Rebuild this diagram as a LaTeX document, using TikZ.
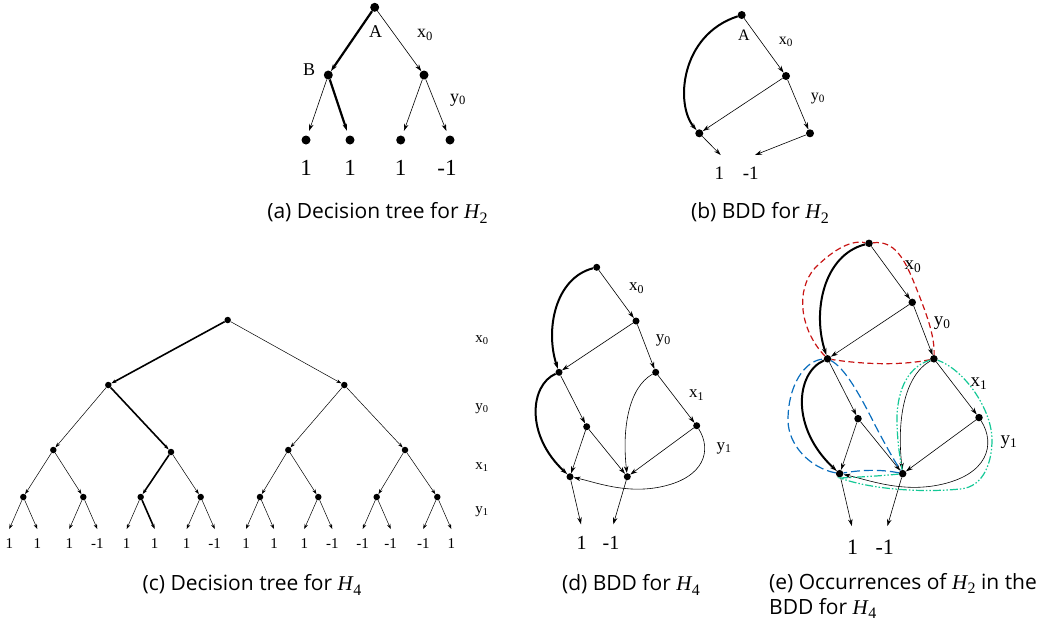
\documentclass[tikz,border=0pt]{standalone}
\usepackage{fontspec}
\setmainfont{Liberation Serif}
\newfontfamily\capfont{Open Sans}
\usetikzlibrary{arrows.meta}
\newcommand\fsz[1]{\fontsize{#1}{#1}\selectfont}
\newcommand\HH[1]{{\rmfamily\itshape H}\kern0.5pt\raisebox{-0.22em}{\rmfamily\fontsize{16}{16}\selectfont #1}}
\definecolor{occred}{RGB}{200,20,20}
\definecolor{occblue}{RGB}{10,110,190}
\definecolor{occgreen}{RGB}{20,200,150}
\newcommand\bddgraph[4]{%
  \node[dotsty=#4] (#1R) at (596.7,267.3) {};
  \node[dotsty=#4] (#1N1) at (636,321) {};
  \node[dotsty=#4] (#1L) at (559,372.3) {};
  \node[dotsty=#4] (#1N2) at (655.7,372.3) {};
  \node[dotsty=#4] (#1M) at (586.7,426.7) {};
  \node[dotsty=#4] (#1N3) at (696.7,425.7) {};
  \node[dotsty=#4] (#1P) at (570,476.7) {};
  \node[dotsty=#4] (#1Q) at (627.3,476.7) {};
  \coordinate (#1E1) at (581,524.3);
  \coordinate (#1E2) at (613.3,524.3);
  \draw[arr,thk] (#1R) .. controls (555,278) and (545,330) .. (#1L);
  \draw[arr] (#1R) -- (#1N1);
  \draw[arr] (#1N1) -- (#1L);
  \draw[arr] (#1N1) -- (#1N2);
  \draw[arr] (#1L) -- (#1M);
  \draw[arr,thk] (#1L) .. controls (530,385) and (525,435) .. (#1P);
  \draw[arr] (#1M) -- (#1P);
  \draw[arr] (#1M) -- (#1Q);
  \draw[arr] (#1N2) .. controls (628,388) and (622,430) .. (#1Q);
  \draw[arr] (#1N2) -- (#1N3);
  \draw[arr] (#1N3) -- (#1Q);
  \draw[arr] (#1N3) .. controls (712,450) and (705,478) .. (660,487) .. controls (625,494) and (595,482) .. (#1P);
  \draw[arr] (#1P) -- (#1E1);
  \draw[arr] (#1Q) -- (#1E2);
  \node[lab,font=\fsz{#3}] (#1one) at (581.7,543.3) {1};
  \node[lab,font=\fsz{#3}] (#1mone) at (611,543.3) {-1};
  \node[lab,font=\fsz{#2}] (#1x0) at (636.7,288.3) {x\textsubscript{0}};
  \node[lab,font=\fsz{#2}] (#1y0) at (663.3,340) {y\textsubscript{0}};
  \node[lab,font=\fsz{#2}] (#1x1) at (696.7,395) {x\textsubscript{1}};
  \node[lab,font=\fsz{#2}] (#1y1) at (724,448.3) {y\textsubscript{1}};
}
\begin{document}
\begin{tikzpicture}[x=1pt,y=-1pt,
  dotsty/.style={circle,fill=black,inner sep=0pt,minimum size=#1},
  dotsty/.default=8pt,
  arr/.style={-{Stealth[length=7pt,width=4.5pt]},line width=0.6pt},
  arrc/.style={-{Stealth[length=5pt,width=3.5pt]},line width=0.5pt},
  thk/.style={line width=2pt},
  lab/.style={inner sep=0pt},
  capsty/.style={inner sep=0pt,font=\capfont\fontsize{21}{25}\selectfont}]
\useasboundingbox (0,0) rectangle (1047,633);
% ---------- (a) ----------
\node[dotsty=9pt] (aR) at (374.7,7.3) {};
\node[dotsty=9pt] (aB) at (328.3,75) {};
\node[dotsty=9pt] (aC) at (424,75) {};
\node[dotsty=9pt] (aL1) at (306,140) {};
\node[dotsty=9pt] (aL2) at (350,140) {};
\node[dotsty=9pt] (aL3) at (400.7,140) {};
\node[dotsty=9pt] (aL4) at (450,140) {};
\draw[arr,line width=2.2pt] (aR) -- (aB);
\draw[arr] (aR) -- (aC);
\draw[arr,shorten >=5pt] (aB) -- (aL1);
\draw[arr,line width=2.2pt,shorten >=5pt] (aB) -- (aL2);
\draw[arr,shorten >=5pt] (aC) -- (aL3);
\draw[arr,shorten >=5pt] (aC) -- (aL4);
\node[lab,font=\fsz{18}] (aA) at (375.7,31.7) {A};
\node[lab,font=\fsz{18}] (aBl) at (309,70) {B};
\node[lab,font=\fsz{18}] (ax0) at (425,35) {x\textsubscript{0}};
\node[lab,font=\fsz{18}] (ay0) at (458,100) {y\textsubscript{0}};
\node[lab,font=\fsz{23}] (an1) at (306,168) {1};
\node[lab,font=\fsz{23}] (an2) at (350,168) {1};
\node[lab,font=\fsz{23}] (an3) at (400.7,168) {1};
\node[lab,font=\fsz{23}] (an4) at (447,168) {-1};
\node[capsty] (capa) at (377.5,213) {(a) Decision tree for \HH{2}};
% ---------- (b) ----------
\node[dotsty=8pt] (bR) at (741.7,15) {};
\node[dotsty=8pt] (bN1) at (786,76) {};
\node[dotsty=8pt] (bN2) at (810,133.3) {};
\node[dotsty=8pt] (bL) at (699.3,133.3) {};
\coordinate (bE1) at (720.7,155);
\coordinate (bE2) at (755,155);
\draw[arr,thk] (bR) .. controls (680,35) and (675,105) .. (bL);
\draw[arr] (bR) -- (bN1);
\draw[arr] (bN1) -- (bL);
\draw[arr] (bN1) -- (bN2);
\draw[arr] (bL) -- (bE1);
\draw[arr] (bN2) -- (bE2);
\node[lab,font=\fsz{16}] (bA) at (744,35) {A};
\node[lab,font=\fsz{16}] (bx0) at (786,41.7) {x\textsubscript{0}};
\node[lab,font=\fsz{16}] (by0) at (818,98.3) {y\textsubscript{0}};
\node[lab,font=\fsz{19}] (bn1) at (719.3,173.3) {1};
\node[lab,font=\fsz{19}] (bn2) at (750.7,173.3) {-1};
\node[capsty] (capb) at (760,213) {(b) BDD for \HH{2}};
% ---------- (c) ----------
\node[dotsty=6.5pt] (cR) at (227.7,320) {};
\node[dotsty=6.5pt] (c1) at (108.3,385) {};
\node[dotsty=6.5pt] (c2) at (344.3,385) {};
\node[dotsty=6.5pt] (c11) at (53.3,450) {};
\node[dotsty=6.5pt] (c12) at (171,452) {};
\node[dotsty=6.5pt] (c21) at (288.3,450) {};
\node[dotsty=6.5pt] (c22) at (405,450) {};
\foreach \i/\x in {1/23.3,2/83.3,3/140.7,4/200.7,5/260,6/318.3,7/376.7,8/437.3} {
  \node[dotsty=6.5pt] (c3\i) at (\x,497) {};
  \coordinate (cl\i) at ({\x-14},529);
  \coordinate (cr\i) at ({\x+14},529);
}
\draw[arrc,line width=1.6pt] (cR) -- (c1);
\draw[arrc] (cR) -- (c2);
\draw[arrc] (c1) -- (c11);
\draw[arrc,line width=1.6pt] (c1) -- (c12);
\draw[arrc] (c2) -- (c21);
\draw[arrc] (c2) -- (c22);
\draw[arrc] (c11) -- (c31);
\draw[arrc] (c11) -- (c32);
\draw[arrc,line width=1.6pt] (c12) -- (c33);
\draw[arrc] (c12) -- (c34);
\draw[arrc] (c21) -- (c35);
\draw[arrc] (c21) -- (c36);
\draw[arrc] (c22) -- (c37);
\draw[arrc] (c22) -- (c38);
\foreach \i in {1,2,4,5,6,7,8} {
  \draw[arrc] (c3\i) -- (cl\i);
  \draw[arrc] (c3\i) -- (cr\i);
}
\draw[arrc] (c33) -- (cl3);
\draw[arrc,line width=1.6pt] (c33) -- (cr3);
\foreach \n/\t in {cl1/1,cr1/1,cl2/1,cr2/-1,cl3/1,cr3/1,cl4/1,cr4/-1,cl5/1,cr5/1,cl6/1,cr6/-1,cl7/-1,cr7/-1,cl8/-1,cr8/1} {
  \node[lab,font=\fsz{15}] (t\n) at ([yshift=-15pt]\n) {\t};
}
\node[lab,font=\fsz{15}] (cx0) at (482,340) {x\textsubscript{0}};
\node[lab,font=\fsz{15}] (cy0) at (482,408.3) {y\textsubscript{0}};
\node[lab,font=\fsz{15}] (cx1) at (482,466.7) {x\textsubscript{1}};
\node[lab,font=\fsz{15}] (cy1) at (482,511.7) {y\textsubscript{1}};
\node[capsty] (capc) at (252,585) {(c) Decision tree for \HH{4}};
% ---------- (d) ----------
\bddgraph{d}{17}{20}{7pt}
\node[capsty] (capd) at (631,585) {(d) BDD for \HH{4}};
% ---------- (e) ----------
\begin{scope}[shift={(212.63,-50.73)},scale=1.1]
\bddgraph{e}{19}{22}{7.5pt}
\end{scope}
\draw[occred,line width=1.2pt,dash pattern=on 6pt off 3.5pt]
  (eL) .. controls (800,330) and (795,290) .. (815,268)
  .. controls (835,248) and (852,240) .. (eR)
  .. controls (895,240) and (905,260) .. (915,285)
  .. controls (925,310) and (935,335) .. (eN2)
  .. controls (900,366) and (860,364) .. (eL);
\draw[occblue,line width=1.2pt,dash pattern=on 9pt off 4pt]
  (eL) .. controls (845,368) and (860,395) .. (875,425)
  .. controls (888,450) and (897,465) .. (eQ)
  .. controls (880,469) and (860,470) .. (eP)
  .. controls (810,468) and (788,445) .. (788,420)
  .. controls (788,385) and (805,360) .. (eL);
\draw[occgreen,line width=1.2pt,dash pattern=on 8pt off 2pt on 1.5pt off 2pt on 1.5pt off 2pt]
  (eN2) .. controls (905,368) and (896,395) .. (897,425)
  .. controls (898,450) and (901,462) .. (eQ)
  .. controls (880,476) and (860,477) .. (840,478)
  .. controls (870,489) and (920,493) .. (960,489)
  .. controls (985,487) and (992,460) .. (992,440)
  .. controls (992,410) and (965,370) .. (eN2);
\node[capsty,anchor=north west,align=left] (cape) at (769,573) {(e) Occurrences of \HH{2} in the\\BDD for \HH{4}};
\end{tikzpicture}
\end{document}
